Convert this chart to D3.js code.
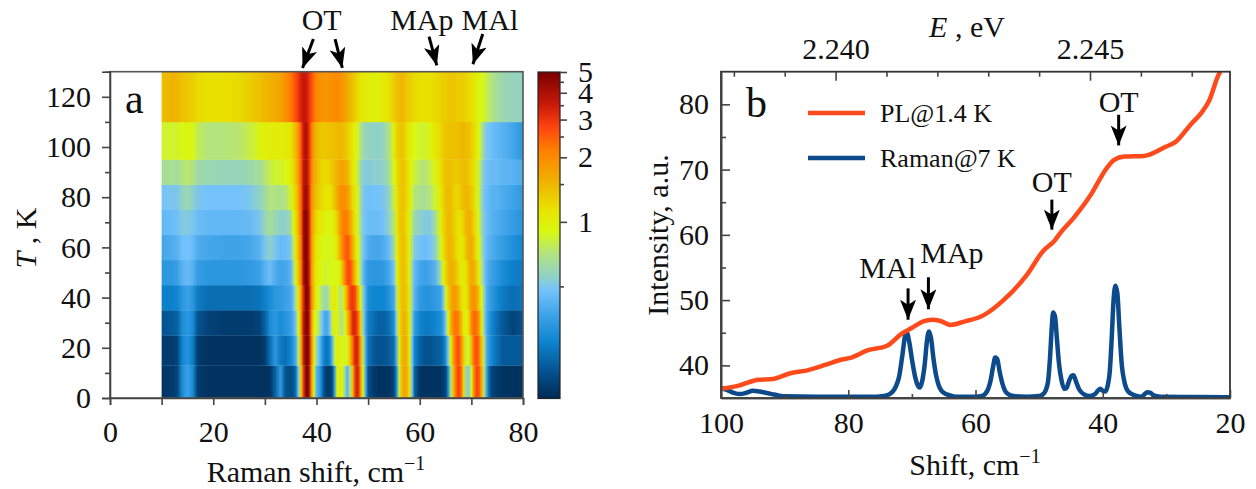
<!DOCTYPE html>
<html>
<head>
<meta charset="utf-8">
<script src="https://cdn.jsdelivr.net/npm/d3@7"></script>
<style>
  html, body { margin: 0; padding: 0; background: #fff; }
  svg { display: block; }
  text { font-family: "Liberation Serif", serif; fill: #111; }
  .axis path, .axis line { stroke: #444; stroke-width: 1.6px; }
</style>
</head>
<body>
<div class="chart"></div>
<script>
// panel a: Raman map, one row per temperature
const heatShift = [
  10, 12, 13, 14, 15, 16, 17, 19, 22, 25, 27, 29, 30, 31, 32, 33, 34, 35,
  35.5, 36, 36.5, 37, 37.5, 38, 38.5, 39, 39.5, 40, 40.5, 41, 41.5, 42, 42.5, 43, 43.5, 44, 44.5, 45, 45.5, 46, 46.5, 47, 47.5, 48, 48.5, 49, 49.5, 50,
  51, 52, 53, 54, 55, 55.5, 56, 56.5, 57, 57.5, 58, 58.5, 59, 60, 61, 62, 63,
  64, 64.5, 65, 65.5, 66, 66.5, 67, 67.5, 68, 68.5, 69, 69.5, 70, 70.5, 71, 71.5, 72, 72.5, 73, 73.5, 74, 75, 76, 78, 80,
];
const heatEdges = [0, 13, 25, 35, 45, 55, 65, 75, 85, 95, 110, 130];

const row7K = [
  .16, .17, .18, .3, .36, .3, .17, .16, .16, .16, .16, .16, .16, .16, .22, .34, .2, .19,
  .2, .25, .5, 1.2, 3, 5, 4.5, 2, .9, .42, .36, .27, .19, .17, .17, .18, .35, .9, 1.05, .95, .6, .42, .7, 1.4, 3, 3.5, 2, .9, .4, .2,
  .17, .16, .16, .16, .18, .3, .8, 1.4, 1.7, 1.6, 1.1, .5, .22, .16, .16, .16, .16,
  .16, .17, .18, .3, .7, 1.4, 2.3, 2.9, 2.4, 1.2, .6, .52, .9, 2, 2.8, 2.6, 1.5, .7, .35, .22, .18, .17, .16, .16, .16,
];
const row20K = [
  .17, .17, .18, .28, .32, .27, .17, .16, .16, .16, .16, .16, .17, .24, .33, .26, .24, .28,
  .32, .4, .75, 1.5, 3.5, 5, 4.5, 2.2, 1, .6, .46, .35, .27, .25, .27, .4, .8, 1, 1, .9, .85, 1, 1.4, 2.3, 3.4, 3.2, 1.8, .8, .4, .25,
  .21, .2, .2, .21, .24, .4, .95, 1.45, 1.65, 1.5, 1, .5, .28, .22, .2, .2, .21,
  .22, .24, .3, .5, .95, 1.7, 2.4, 2.7, 2.1, 1.3, .85, .85, 1.4, 2.4, 2.7, 2.3, 1.3, .7, .38, .32, .28, .24, .21, .21, .21,
];
const row30K = [
  .2, .21, .22, .3, .33, .3, .2, .18, .17, .17, .17, .18, .22, .3, .33, .3, .32, .35,
  .4, .5, .9, 1.7, 3.6, 5, 4.2, 2, 1, .85, .7, .5, .4, .38, .46, .8, 1, .95, .75, .7, .9, 1.4, 2.2, 3.2, 3.3, 2.6, 1.3, .6, .38, .27,
  .24, .22, .22, .24, .3, .55, 1.1, 1.45, 1.55, 1.4, 1, .55, .34, .28, .26, .26, .28,
  .3, .35, .5, .9, 1.5, 2.1, 2.3, 2.1, 1.5, 1.05, .95, 1.2, 2, 2.4, 2.3, 1.8, 1, .55, .38, .32, .28, .24, .21, .18, .2,
];
const row40K = [
  .27, .27, .28, .33, .36, .33, .26, .24, .24, .24, .24, .25, .27, .3, .33, .34, .36, .38,
  .46, .7, 1.1, 1.8, 3.3, 5, 4.2, 2.2, 1.3, 1, .85, .7, .62, .6, .75, 1, 1.05, .9, .72, .8, 1.2, 1.9, 2.8, 3, 2.7, 1.6, .95, .55, .4, .3,
  .28, .28, .28, .31, .38, .7, 1.15, 1.4, 1.45, 1.3, 1, .6, .42, .34, .32, .32, .34,
  .36, .46, .85, 1.25, 1.55, 1.8, 1.8, 1.5, 1.2, 1.05, 1.05, 1.4, 1.85, 1.95, 1.75, 1.3, .9, .55, .4, .36, .33, .29, .26, .24, .25,
];
const row50K = [
  .33, .34, .36, .42, .45, .42, .35, .33, .33, .33, .34, .36, .42, .46, .4, .37, .38, .42,
  .6, .95, 1.4, 2.1, 4, 5, 3.8, 2, 1.3, 1.05, .96, .9, .86, .86, .88, .9, .88, .9, 1, 1.4, 2.1, 2.7, 2.7, 2.1, 1.4, .95, .7, .46, .38, .34,
  .33, .33, .34, .38, .48, .85, 1.2, 1.4, 1.4, 1.25, .95, .6, .44, .38, .36, .38, .42,
  .6, .95, 1.2, 1.45, 1.55, 1.55, 1.4, 1.2, 1.08, 1.05, 1.15, 1.45, 1.65, 1.6, 1.3, 1, .72, .5, .42, .38, .36, .33, .3, .27, .26,
];
const row60K = [
  .38, .4, .42, .47, .48, .46, .4, .38, .37, .37, .38, .42, .5, .55, .5, .45, .46, .5,
  .75, 1.1, 1.5, 2.2, 4.2, 5, 3.6, 2, 1.3, 1.1, 1, .95, .9, .88, .88, .9, .96, 1.15, 1.5, 2, 2.4, 2.6, 2.2, 1.6, 1.2, .9, .7, .5, .44, .4,
  .38, .38, .4, .45, .6, .95, 1.25, 1.4, 1.4, 1.2, .95, .68, .52, .48, .46, .48, .55,
  .85, 1.1, 1.35, 1.5, 1.5, 1.4, 1.25, 1.12, 1.08, 1.15, 1.4, 1.6, 1.6, 1.4, 1.1, .9, .65, .5, .44, .42, .4, .37, .35, .31, .28,
];
const row70K = [
  .44, .46, .47, .52, .52, .5, .46, .44, .44, .44, .45, .5, .58, .65, .6, .55, .55, .62,
  .9, 1.2, 1.6, 2.4, 4.2, 4.8, 3.6, 2, 1.45, 1.2, 1.1, 1.05, 1, .96, .94, .98, 1.1, 1.3, 1.7, 2.1, 2.2, 2.1, 1.7, 1.35, 1.1, .85, .65, .52, .48, .46,
  .46, .46, .48, .55, .72, 1.05, 1.3, 1.4, 1.35, 1.15, .98, .75, .6, .55, .52, .52, .65,
  .95, 1.2, 1.35, 1.5, 1.45, 1.35, 1.2, 1.15, 1.15, 1.3, 1.5, 1.55, 1.5, 1.25, 1.05, .85, .6, .5, .46, .44, .42, .4, .38, .35, .32,
];
const row80K = [
  .48, .5, .5, .56, .6, .55, .5, .48, .48, .48, .5, .56, .62, .72, .7, .68, .72, .85,
  1.1, 1.3, 1.7, 2.4, 3.8, 4.4, 3.4, 2.1, 1.6, 1.4, 1.3, 1.2, 1.15, 1.1, 1.1, 1.2, 1.4, 1.6, 1.9, 2, 1.95, 1.8, 1.5, 1.2, 1.05, .85, .65, .52, .48, .47,
  .48, .48, .5, .56, .8, 1.1, 1.3, 1.4, 1.35, 1.2, 1.05, .85, .72, .68, .66, .72, .85,
  1.05, 1.25, 1.4, 1.45, 1.45, 1.3, 1.25, 1.25, 1.35, 1.45, 1.5, 1.45, 1.35, 1.2, 1, .8, .58, .49, .46, .44, .42, .42, .4, .37, .34,
];
const row90K = [
  .65, .66, .65, .7, .75, .7, .62, .6, .58, .58, .6, .65, .72, .8, .85, .85, .9, 1,
  1.2, 1.4, 1.8, 2.5, 3.7, 4.1, 3.2, 2.2, 1.7, 1.5, 1.35, 1.25, 1.2, 1.2, 1.25, 1.35, 1.45, 1.55, 1.65, 1.7, 1.65, 1.5, 1.3, 1.1, .95, .8, .62, .55, .52, .52,
  .55, .54, .56, .62, .9, 1.15, 1.3, 1.4, 1.35, 1.2, 1.05, .95, .82, .75, .72, .8, .95,
  1.15, 1.3, 1.4, 1.45, 1.4, 1.35, 1.3, 1.35, 1.4, 1.45, 1.45, 1.35, 1.25, 1.15, 1, .8, .62, .5, .47, .46, .45, .45, .43, .42, .4,
];
const row100K = [
  .85, .85, .85, .9, .95, .9, .78, .72, .72, .74, .8, .95, 1, 1.02, 1.02, 1.02, 1.05, 1.1,
  1.3, 1.5, 1.9, 2.6, 3.6, 4, 3.2, 2.3, 1.7, 1.5, 1.4, 1.35, 1.35, 1.35, 1.4, 1.4, 1.45, 1.45, 1.5, 1.45, 1.4, 1.3, 1.2, 1.1, .98, .85, .72, .62, .58, .56,
  .56, .55, .58, .68, 1, 1.25, 1.35, 1.4, 1.3, 1.15, 1.05, .95, .9, .85, .85, .95, 1.1,
  1.2, 1.3, 1.35, 1.4, 1.4, 1.4, 1.4, 1.45, 1.5, 1.5, 1.45, 1.4, 1.3, 1.2, 1.05, .9, .72, .55, .5, .48, .46, .44, .42, .38, .33,
];
const row120K = [
  1.4, 1.55, 1.5, 1.4, 1.35, 1.3, 1.2, 1.15, 1.15, 1.2, 1.3, 1.4, 1.5, 1.55, 1.6, 1.7, 1.9, 2.2,
  2.4, 2.7, 3, 3.4, 3.6, 3.5, 3.1, 2.7, 2.3, 2.05, 1.95, 1.9, 1.85, 1.85, 1.9, 1.95, 2, 2, 1.95, 1.85, 1.75, 1.6, 1.5, 1.4, 1.3, 1.2, 1.12, 1.08, 1.05, 1.02,
  1, 1, 1.05, 1.15, 1.3, 1.4, 1.45, 1.5, 1.45, 1.35, 1.3, 1.25, 1.2, 1.15, 1.15, 1.15, 1.2,
  1.25, 1.3, 1.3, 1.35, 1.35, 1.35, 1.35, 1.3, 1.3, 1.3, 1.25, 1.2, 1.15, 1.1, 1.02, .95, .9, .85, .8, .75, .7, .65, .6, .58, .56,
];
const heatRows = [row7K, row20K, row30K, row40K, row50K, row60K, row70K, row80K, row90K, row100K, row120K];

// colour bar
const colorValues = [.15, .2, .28, .36, .48, .56, .72, .9, 1.13, 1.56, 2.15, 2.75, 3.55, 5];
const colorRange = ['#002a54', '#04528f', '#0f86d2', '#3aa0e6', '#74c2fb', '#92d2c4', '#b4e47c', '#d8f812', '#e8e400', '#f0b000', '#ff8000', '#ff4510', '#c81808', '#780000'];
const colorTicks = [1, 2, 3, 4, 5];
const colorMinorTicks = [.5, 1.5, 2.5, 3.5, 4.5];

// annotations of panel a
const mapNames = ['OT', 'MAp', 'MAl'];
const mapNameShift = [41, 60.4, 73.6];
const mapNameT = [146.5, 146.5, 146.5];
const mapTipShift = [37.3, 45, 63.3, 70.3];
const mapTipT = [131.5, 131.5, 132.5, 133];
const mapTailShift = [39.4, 43.6, 61.8, 72.2];
const mapTailT = [143, 143, 144, 145];

// panel b: spectra
const plShift = [100, 97.2, 94.1, 91.9, 89.1, 86.6, 83.5, 81, 79.5, 77, 73.9, 71.7, 69.9, 68.3, 66.8, 65.5, 64, 61.8, 58.7, 55.6, 51.9, 49.4, 47.5, 46.9, 44.4, 41.9, 39.4, 38.2, 36.6, 33.5, 30.1, 28.6, 26.1, 24.5, 23.3, 21.7, 21.5];
const plIntensity = [36.4, 36.9, 37.8, 37.9, 38.8, 39.2, 40.1, 40.9, 41.2, 42.3, 43, 44.8, 45.8, 46.7, 47, 46.8, 46.2, 46.7, 47.7, 50, 53.9, 57.5, 59.2, 60, 62.8, 66.1, 70.2, 71.5, 72, 72.1, 73.5, 74.2, 77, 78.7, 80.5, 84.7, 85];
const ramanShift = [100, 99, 98, 97, 96, 95, 94, 93, 92, 91, 90, 85, 80, 76, 75, 74, 73.5, 73, 72.5, 72, 71.5, 71, 70.8, 70.4, 70, 69.5, 69, 68.8, 68.4, 68, 67.6, 67.3, 67, 66.6, 66.2, 65.8, 65.4, 65, 64, 63, 60, 59, 58.5, 58, 57.6, 57.2, 56.9, 56.6, 56.2, 55.8, 55.4, 55, 54, 52, 50, 49.5, 49, 48.6, 48.3, 48, 47.8, 47.5, 47.2, 46.9, 46.5, 46, 45.7, 45.3, 44.9, 44.6, 44.2, 43.7, 43, 42, 41.2, 40.7, 40.4, 40, 39.6, 39.2, 38.9, 38.6, 38.3, 38, 37.7, 37.4, 37, 36.6, 36, 35, 34, 33.5, 33, 32.5, 32, 31, 25, 20];
const ramanIntensity = [36.5, 36.2, 35.8, 35.6, 35.8, 36.1, 36, 35.8, 35.6, 35.4, 35.25, 35.2, 35.2, 35.2, 35.25, 35.4, 35.6, 36, 36.8, 38.3, 41.5, 44.8, 45, 43.5, 41, 38.3, 36.8, 36.6, 37.5, 40, 44, 45.2, 44.2, 41, 38.5, 37, 36.2, 35.8, 35.4, 35.2, 35.2, 35.3, 35.6, 36.4, 37.8, 40, 41.2, 41, 39, 37.3, 36.2, 35.7, 35.3, 35.2, 35.3, 35.5, 36.1, 37.5, 41, 46, 48.1, 47.5, 44, 40.5, 37.8, 36.4, 36.5, 37.6, 38.4, 38.5, 37.5, 36.3, 35.6, 35.3, 35.6, 36.2, 36.4, 36.1, 36, 37, 39, 44, 50, 52.2, 51, 46, 40, 37.5, 36, 35.4, 35.2, 35.5, 35.9, 35.8, 35.4, 35.2, 35.15, 35.1];

const specNames = ['OT', 'OT', 'MAl', 'MAp'];
const specNameShift = [37.5, 48, 73.8, 63.7];
const specNameValue = [78.8, 66.6, 53.4, 55.7];
const specTipShift = [37.5, 48, 70.6, 67.4];
const specTipValue = [73.7, 60.8, 47, 48.6];
const specTailValue = [78.4, 65.4, 51.8, 53.5];

const energyMajor = [2.240, 2.245];
const energyMinor = [2.238, 2.239, 2.241, 2.242, 2.243, 2.244, 2.246, 2.247];

const width = 1256;
const height = 489;
const fontSize = 30;

const svg = d3.select('.chart').append('svg')
  .attr('width', width)
  .attr('height', height);
const defs = svg.append('defs');

// arrow head
defs.append('marker')
  .attr('id', 'head')
  .attr('viewBox', '0 0 20 16')
  .attr('refX', 20)
  .attr('refY', 8)
  .attr('markerUnits', 'userSpaceOnUse')
  .attr('markerWidth', 20)
  .attr('markerHeight', 16)
  .attr('orient', 'auto')
  .append('path')
  .attr('d', 'M0,0L20,8L0,16L5,8Z')
  .attr('fill', '#000');

function addArrow(g, x1, y1, x2, y2) {
  g.append('line')
    .attr('x1', x1).attr('y1', y1)
    .attr('x2', x2).attr('y2', y2)
    .attr('stroke', '#000')
    .attr('stroke-width', 3)
    .attr('marker-end', 'url(#head)');
}

function addLabel(g, x, y, words) {
  return g.append('text')
    .attr('x', x)
    .attr('y', y)
    .attr('font-size', fontSize)
    .text(words);
}

/* ---------- panel a ---------- */
const xMap = d3.scaleLinear().domain([0, 80]).range([110, 523]);
const yMap = d3.scaleLinear().domain([0, 130]).range([398, 71.7]);
const color = d3.scaleLog().domain(colorValues).range(colorRange).clamp(true);

const mapG = svg.append('g');

// every row is a rect painted with a horizontal gradient of its readings
heatRows.forEach((row, i) => {
  const grad = defs.append('linearGradient')
    .attr('id', `row${i}`)
    .attr('gradientUnits', 'userSpaceOnUse')
    .attr('x1', xMap(10)).attr('x2', xMap(80))
    .attr('y1', 0).attr('y2', 0);
  grad.selectAll('stop')
    .data(row)
    .enter()
    .append('stop')
    .attr('offset', (d, j) => (heatShift[j] - 10) / 70)
    .attr('stop-color', (d) => color(d));
  mapG.append('rect')
    .attr('x', xMap(10))
    .attr('width', xMap(80) - xMap(10))
    .attr('y', yMap(heatEdges[i + 1]))
    .attr('height', yMap(heatEdges[i]) - yMap(heatEdges[i + 1]) + 0.3)
    .attr('fill', `url(#row${i})`);
});

// frame
mapG.append('rect')
  .attr('x', xMap(0)).attr('y', yMap(130))
  .attr('width', xMap(80) - xMap(0)).attr('height', yMap(0) - yMap(130))
  .attr('fill', 'none')
  .attr('stroke', '#555')
  .attr('stroke-width', 1.6);

const xMapAxis = mapG.append('g')
  .attr('class', 'axis')
  .attr('transform', `translate(0,${yMap(0)})`)
  .call(d3.axisBottom(xMap).tickValues(d3.range(0, 81, 10))
    .tickSize(7).tickPadding(16)
    .tickFormat((d) => (d % 20 === 0 ? d : '')));
xMapAxis.selectAll('text').attr('font-size', fontSize).attr('font-family', 'Liberation Serif');

const yMapAxis = mapG.append('g')
  .attr('class', 'axis')
  .attr('transform', `translate(${xMap(0)},0)`)
  .call(d3.axisLeft(yMap).tickValues(d3.range(0, 131, 10))
    .tickSize(8).tickPadding(11)
    .tickFormat((d) => (d % 20 === 0 ? d : '')));
yMapAxis.selectAll('text').attr('font-size', fontSize).attr('font-family', 'Liberation Serif');
yMapAxis.selectAll('.tick')
  .filter((d) => d % 20 !== 0)
  .select('line')
  .attr('x2', -5);

// colour bar
const yBar = d3.scaleLog().domain([.15, 5]).range([398.5, 72]);
const barGrad = defs.append('linearGradient')
  .attr('id', 'bar')
  .attr('x1', 0).attr('x2', 0)
  .attr('y1', 1).attr('y2', 0);
barGrad.selectAll('stop')
  .data(colorValues)
  .enter()
  .append('stop')
  .attr('offset', (d) => (yBar(.15) - yBar(d)) / (yBar(.15) - yBar(5)))
  .attr('stop-color', (d) => color(d));
mapG.append('rect')
  .attr('x', 538).attr('y', yBar(5))
  .attr('width', 22).attr('height', yBar(.15) - yBar(5))
  .attr('fill', 'url(#bar)')
  .attr('stroke', '#222')
  .attr('stroke-width', 1.2);

const barAxis = mapG.append('g')
  .attr('class', 'axis')
  .attr('transform', 'translate(560,0)')
  .call(d3.axisRight(yBar).tickValues(colorTicks).tickSize(7).tickPadding(11).tickFormat(d3.format('d')));
barAxis.select('.domain').remove();
barAxis.selectAll('text').attr('font-size', fontSize).attr('font-family', 'Liberation Serif');
const barMinor = mapG.append('g')
  .attr('class', 'axis')
  .attr('transform', 'translate(560,0)')
  .call(d3.axisRight(yBar).tickValues(colorMinorTicks).tickSize(4).tickFormat(''));
barMinor.select('.domain').remove();

// panel a texts
addLabel(mapG, 125, 113, 'a').attr('font-size', 42);
mapNames.forEach((name, i) => {
  addLabel(mapG, xMap(mapNameShift[i]), yMap(mapNameT[i]), name).attr('text-anchor', 'middle');
});
mapTipShift.forEach((s, i) => {
  addArrow(mapG, xMap(mapTailShift[i]), yMap(mapTailT[i]), xMap(s), yMap(mapTipT[i]));
});

const xMapTitle = addLabel(mapG, 316, 482, 'Raman shift, cm').attr('text-anchor', 'middle');
xMapTitle.append('tspan').attr('dy', -12).attr('font-size', 20).text('\u22121');

const yMapTitle = mapG.append('text')
  .attr('transform', 'translate(36,238) rotate(-90)')
  .attr('text-anchor', 'middle')
  .attr('font-size', fontSize);
yMapTitle.append('tspan').attr('font-style', 'italic').text('T');
yMapTitle.append('tspan').text(' , K');

/* ---------- panel b ---------- */
const xSpec = d3.scaleLinear().domain([100, 20]).range([721, 1230]);
const ySpec = d3.scaleLinear().domain([35, 85]).range([398, 71.7]);
const xEnergy = d3.scaleLinear().domain([2.240, 2.245]).range([835.6, 1090]);

const specG = svg.append('g');

const specClip = defs.append('clipPath').attr('id', 'specClip');
specClip.append('rect')
  .attr('x', xSpec(100)).attr('y', ySpec(85))
  .attr('width', xSpec(20) - xSpec(100)).attr('height', ySpec(35) - ySpec(85));

const specLine = d3.line()
  .x((d) => xSpec(d[0]))
  .y((d) => ySpec(d[1]))
  .curve(d3.curveMonotoneX);

specG.append('path')
  .datum(d3.zip(ramanShift, ramanIntensity))
  .attr('d', specLine)
  .attr('clip-path', 'url(#specClip)')
  .attr('fill', 'none')
  .attr('stroke', '#0d4a8c')
  .attr('stroke-width', 4.5);
specG.append('path')
  .datum(d3.zip(plShift, plIntensity))
  .attr('d', specLine)
  .attr('clip-path', 'url(#specClip)')
  .attr('fill', 'none')
  .attr('stroke', '#ff4a1c')
  .attr('stroke-width', 4.5);

// frame
specG.append('rect')
  .attr('x', xSpec(100)).attr('y', ySpec(85))
  .attr('width', xSpec(20) - xSpec(100)).attr('height', ySpec(35) - ySpec(85))
  .attr('fill', 'none')
  .attr('stroke', '#333')
  .attr('stroke-width', 1.8);

const xSpecAxis = specG.append('g')
  .attr('class', 'axis')
  .attr('transform', `translate(0,${ySpec(35)})`)
  .call(d3.axisBottom(xSpec).tickValues(d3.range(100, 19, -20))
    .tickSizeInner(-8).tickSizeOuter(0).tickPadding(14).tickFormat(d3.format('d')));
xSpecAxis.selectAll('text').attr('font-size', fontSize).attr('font-family', 'Liberation Serif');
specG.append('g')
  .attr('class', 'axis')
  .attr('transform', `translate(0,${ySpec(35)})`)
  .call(d3.axisBottom(xSpec).tickValues(d3.range(90, 29, -20))
    .tickSizeInner(-4).tickSizeOuter(0).tickFormat(''));

const ySpecAxis = specG.append('g')
  .attr('class', 'axis')
  .attr('transform', `translate(${xSpec(100)},0)`)
  .call(d3.axisLeft(ySpec).tickValues(d3.range(40, 81, 10))
    .tickSizeInner(-9).tickSizeOuter(0).tickPadding(12).tickFormat(d3.format('d')));
ySpecAxis.selectAll('text').attr('font-size', fontSize).attr('font-family', 'Liberation Serif');
specG.append('g')
  .attr('class', 'axis')
  .attr('transform', `translate(${xSpec(100)},0)`)
  .call(d3.axisLeft(ySpec).tickValues(d3.range(45, 76, 10))
    .tickSizeInner(-5).tickSizeOuter(0).tickFormat(''));

const topAxis = specG.append('g')
  .attr('class', 'axis')
  .attr('transform', `translate(0,${ySpec(85)})`)
  .call(d3.axisTop(xEnergy).tickValues(energyMajor)
    .tickSizeInner(-9).tickSizeOuter(0).tickPadding(13).tickFormat(d3.format('.3f')));
topAxis.select('.domain').remove();
topAxis.selectAll('text').attr('font-size', fontSize).attr('font-family', 'Liberation Serif');
const topMinor = specG.append('g')
  .attr('class', 'axis')
  .attr('transform', `translate(0,${ySpec(85)})`)
  .call(d3.axisTop(xEnergy).tickValues(energyMinor).tickSizeInner(-5).tickSizeOuter(0).tickFormat(''));
topMinor.select('.domain').remove();

// legend
[['PL@1.4 K', '#ff4a1c', 113], ['Raman@7 K', '#0d4a8c', 158]].forEach((item) => {
  specG.append('line')
    .attr('x1', 808).attr('x2', 865)
    .attr('y1', item[2]).attr('y2', item[2])
    .attr('stroke', item[1])
    .attr('stroke-width', 4.5);
  addLabel(specG, 880, item[2] + 9, item[0]).attr('font-size', 26);
});

// panel b texts
addLabel(specG, 746, 117, 'b').attr('font-size', 42);
specNames.forEach((name, i) => {
  addLabel(specG, xSpec(specNameShift[i]), ySpec(specNameValue[i]), name).attr('text-anchor', 'middle');
  addArrow(specG, xSpec(specTipShift[i]), ySpec(specTailValue[i]), xSpec(specTipShift[i]), ySpec(specTipValue[i]));
});

const xSpecTitle = addLabel(specG, 975, 475, 'Shift, cm').attr('text-anchor', 'middle');
xSpecTitle.append('tspan').attr('dy', -12).attr('font-size', 20).text('\u22121');

const topTitle = specG.append('text')
  .attr('x', 967)
  .attr('y', 37)
  .attr('text-anchor', 'middle')
  .attr('font-size', fontSize);
topTitle.append('tspan').attr('font-style', 'italic').text('E');
topTitle.append('tspan').text(' , eV');

specG.append('text')
  .attr('transform', 'translate(668,235) rotate(-90)')
  .attr('text-anchor', 'middle')
  .attr('font-size', fontSize)
  .text('Intensity, a.u.');
</script>
</body>
</html>
